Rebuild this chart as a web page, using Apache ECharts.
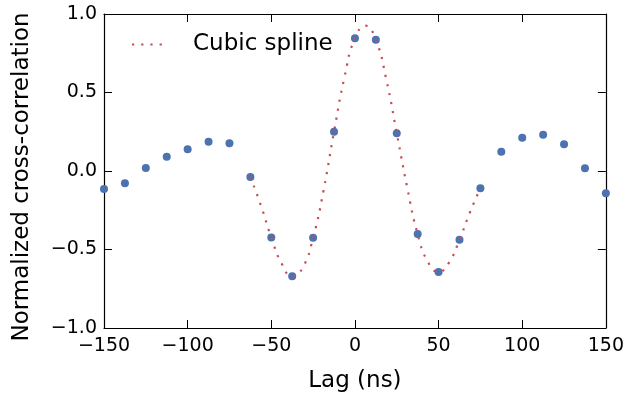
<!DOCTYPE html>
<html><head><meta charset="utf-8">
<script src="https://cdn.jsdelivr.net/npm/echarts@6/dist/echarts.min.js"></script>
<style>html,body{margin:0;padding:0;background:#fff}#c{width:627px;height:399px}</style>
</head><body><div id="c"></div>
<script>
// measured samples (lag in ns, normalized cross-correlation)
const lags = [-150,-137.5,-125,-112.5,-100,-87.5,-75,-62.5,-50,-37.5,-25,-12.5,0,12.5,25,37.5,50,62.5,75,87.5,100,112.5,125,137.5,150];
const corr = [-0.114,-0.078,0.019,0.091,0.138,0.186,0.176,-0.038,-0.423,-0.671,-0.425,0.25,0.846,0.836,0.241,-0.402,-0.643,-0.438,-0.11,0.123,0.212,0.231,0.17,0.017,-0.142];
// cubic spline curve
const splineLags = [-62.5,-56.25,-50,-43.75,-37.5,-31.25,-25,-18.75,-12.5,-6.25,0,6.25,12.5,18.75,25,31.25,37.5,43.75,50,56.25,62.5,68.75,75];
const splineVals = [-0.038,-0.218,-0.423,-0.591,-0.671,-0.616,-0.425,-0.123,0.25,0.598,0.846,0.926,0.836,0.583,0.241,-0.105,-0.402,-0.582,-0.643,-0.583,-0.438,-0.263,-0.11];
const xTicks = [-150,-100,-50,0,50,100,150];
const yTicks = [-1.0,-0.5,0.0,0.5,1.0];
const FONT = 'DejaVu Sans';
const pts = lags.map((x,i)=>[x,corr[i]]);
const splinePts = splineLags.map((x,i)=>[x,splineVals[i]]);
const fmtX = v => (v<0?'\u2212':'') + Math.abs(v);
const fmtY = v => (v<0?'\u2212':'') + Math.abs(v).toFixed(1);
const tickCommon = {show:true, inside:true, length:8, lineStyle:{color:'#000', width:1}};
const axisLineCommon = {show:true, onZero:false, lineStyle:{color:'#000', width:1.2}};
const chart = echarts.init(document.getElementById('c'), null, {renderer:'canvas'});
chart.setOption({
  animation:false,
  backgroundColor:'#fff',
  grid:{left:104, right:21, top:14, bottom:71, containLabel:false},
  legend:{show:true, left:126, top:28, itemWidth:31, itemHeight:14, itemGap:10,
    textStyle:{fontFamily:FONT, fontSize:23, color:'#000', padding:[0,0,0,25]},
    data:[{name:'Cubic spline', itemStyle:{opacity:0, color:'rgba(0,0,0,0)', borderWidth:0}}]},
  xAxis:[{type:'value', min:-150, max:150, interval:50, position:'bottom',
    name:'Lag (ns)', nameLocation:'middle', nameGap:42,
    nameTextStyle:{fontFamily:FONT, fontSize:23, color:'#000'},
    axisLine:axisLineCommon, axisTick:tickCommon, splitLine:{show:false},
    axisLabel:{fontFamily:FONT, fontSize:19, color:'#000', margin:9, formatter:fmtX}},
    {type:'value', min:-150, max:150, interval:50, position:'top',
    axisLine:axisLineCommon, axisTick:tickCommon, splitLine:{show:false}, axisLabel:{show:false}}],
  yAxis:[{type:'value', min:-1, max:1, interval:0.5, position:'left',
    name:'Normalized cross-correlation', nameLocation:'middle', nameGap:70, nameRotate:90,
    nameTextStyle:{fontFamily:FONT, fontSize:23, color:'#000', padding:[0,12,0,0]},
    axisLine:axisLineCommon, axisTick:tickCommon, splitLine:{show:false},
    axisLabel:{fontFamily:FONT, fontSize:19, color:'#000', margin:7, formatter:fmtY}},
    {type:'value', min:-1, max:1, interval:0.5, position:'right',
    axisLine:axisLineCommon, axisTick:tickCommon, splitLine:{show:false}, axisLabel:{show:false}}],
  series:[
    {name:'Cubic spline', type:'line', data:splinePts, smooth:0.5, symbol:'none', showSymbol:false,
     lineStyle:{color:'#c44e52', width:2.2, type:[2.2,7], cap:'butt'}, itemStyle:{color:'#c44e52'}, z:3},
    {name:'data', type:'scatter', data:pts, symbol:'circle', symbolSize:8,
     itemStyle:{color:'#4c72b0', opacity:1}, z:2}
  ]
});
</script></body></html>
